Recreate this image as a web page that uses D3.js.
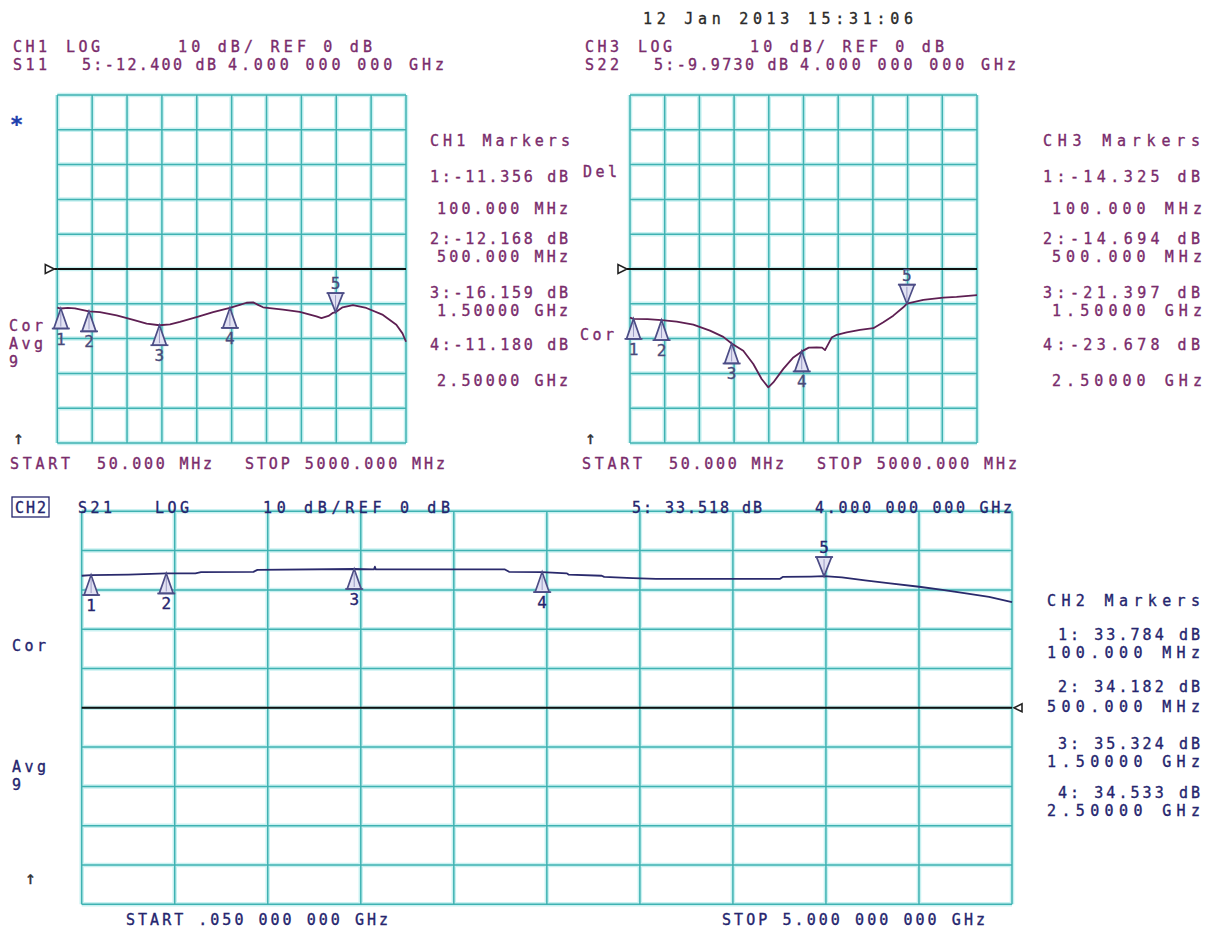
<!DOCTYPE html>
<html><head><meta charset="utf-8">
<script src="https://cdn.jsdelivr.net/npm/d3@7"></script>
<style>
body{margin:0;background:#fff;}
svg{display:block;}
text{font-family:"DejaVu Sans Mono","Liberation Mono",monospace;font-size:15px;stroke-width:0.35px;}
</style></head><body>
<svg id="c" width="1207" height="929"></svg>
<script>
// ---------------- DATA ----------------
const freqStartMHz = 50, freqStopMHz = 5000;
const dbPerDiv = 10, refDb = 0, divisions = 10;
const markerFreqMHz = [100, 500, 1500, 2500, 4000];
const markerFreqLabels = ["100.000 MHz", "500.000 MHz", "1.50000 GHz", "2.50000 GHz"];
const markerFreqHeader = "4.000 000 000 GHz";
const ch1MarkerDb = [-11.356, -12.168, -16.159, -11.180, -12.400];
const ch3MarkerDb = [-14.325, -14.694, -21.397, -23.678, -9.973];
const ch2MarkerDb = [33.784, 34.182, 35.324, 34.533, 33.518];

const ch1TraceFreq = [50,100,200,300,500,655,892,1129,1318,1500,1650,1790,2027,2262,2500,2640,2736,2830,2900,2971,3255,3491,3728,3800,3900,3964,4000,4100,4247,4437,4673,4863,4950,5000];
const ch1TraceDb = [-11.1,-11.356,-11.2,-11.3,-12.168,-12.4,-13.3,-14.6,-15.7,-16.159,-15.9,-15.2,-13.8,-12.4,-11.18,-10.3,-9.7,-9.6,-10.3,-11.0,-11.7,-12.3,-13.6,-14.1,-13.5,-12.6,-12.4,-11.0,-10.4,-11.2,-13.2,-16.0,-18.5,-20.9];

const ch3TraceFreq = [50,100,300,500,716,953,1191,1381,1500,1666,1809,1928,2023,2094,2237,2380,2500,2600,2713,2790,2832,2880,2927,3000,3141,3331,3521,3664,3806,3949,4000,4234,4519,4709,5000];
const ch3TraceDb = [-14.0,-14.325,-14.4,-14.694,-15.1,-16.0,-17.7,-19.5,-21.397,-23.5,-27.3,-31.6,-34.0,-32.6,-28.7,-25.4,-23.678,-22.6,-22.5,-22.6,-23.3,-21.5,-19.7,-18.9,-18.2,-17.5,-17.0,-15.3,-13.4,-11.0,-9.973,-8.9,-8.2,-8.0,-7.5];

const ch2TraceFreq = [50,100,300,500,655,685,964,985,1500,1605,1610,1615,2302,2324,2500,2632,2640,2817,2830,2982,3106,3764,3780,3930,4000,4095,4218,4340,4506,4630,4755,4878,5000];
const ch2TraceDb = [33.6,33.784,33.9,34.182,34.2,34.5,34.6,35.1,35.324,35.2,35.9,35.2,35.2,34.6,34.533,34.2,33.9,33.6,33.3,33.0,32.8,32.8,33.3,33.4,33.518,33.2,32.4,31.7,30.8,30.0,29.1,28.2,26.9];

const dateText = "12 Jan 2013  15:31:06";
const startStopShort = ["START", "50.000 MHz", "STOP 5000.000 MHz"];
const startStopLong = ["START .050 000 000 GHz", "STOP  5.000 000 000 GHz"];

// ---------------- STYLE ----------------
const C_GRID = "#3fb2b2", C_GLOW = "#c9f1f1";
const C_PURPLE = "#7a2c6c", C_NAVY = "#25256e", C_TRACE13 = "#5e1f52", C_TRACE2 = "#2a2a6c";
const C_MK = "#4d4d86";

const svg = d3.select("#c");
svg.append("rect").attr("width",1207).attr("height",929).attr("fill","#fff");

const fmt = v => v.toPrecision(5);

function txt(g, s, x, y, color, w, extra) {
  const t = g.append("text").attr("x", x).attr("y", y).attr("fill", color).attr("stroke", color).text(s);
  if (w) t.attr("textLength", w).attr("lengthAdjust", "spacing");
  if (extra) extra(t);
  return t;
}

function panel(x0, x1, y0, y1) {
  const x = d3.scaleLinear().domain([freqStartMHz, freqStopMHz]).range([x0, x1]);
  const y = d3.scaleLinear().domain([refDb - dbPerDiv*divisions/2, refDb + dbPerDiv*divisions/2]).range([y1, y0]);
  return {x, y};
}

function drawGrid(p) {
  const g = svg.append("g");
  const fx = d3.range(divisions+1).map(i => freqStartMHz + i*(freqStopMHz-freqStartMHz)/divisions);
  const dy = d3.range(divisions+1).map(i => refDb - dbPerDiv*divisions/2 + i*dbPerDiv);
  const [ya, yb] = p.y.range(), [xa, xb] = p.x.range();
  for (const [col, w] of [[C_GLOW, 4.5], [C_GRID, 1.5]]) {
    g.selectAll(null).data(fx).join("line")
      .attr("x1", d => p.x(d)).attr("x2", d => p.x(d)).attr("y1", ya).attr("y2", yb)
      .attr("stroke", col).attr("stroke-width", w);
    g.selectAll(null).data(dy).join("line")
      .attr("y1", d => p.y(d)).attr("y2", d => p.y(d)).attr("x1", xa).attr("x2", xb)
      .attr("stroke", col).attr("stroke-width", w);
  }
  return g;
}

function refLine(p, side) {
  const g = svg.append("g");
  const [xa, xb] = p.x.range();
  const yr = p.y(refDb);
  g.append("line").attr("x1", xa).attr("x2", xb).attr("y1", yr).attr("y2", yr)
    .attr("stroke", "#111").attr("stroke-width", 2);
  if (side === "left") {
    g.append("path").attr("d", `M${xa-12},${yr-4.5}L${xa-12},${yr+4.5}L${xa-3},${yr}Z`)
      .attr("fill", "#fff").attr("stroke", "#222").attr("stroke-width", 1.6);
    g.append("line").attr("x1", xa-3).attr("x2", xa).attr("y1", yr).attr("y2", yr).attr("stroke","#111").attr("stroke-width",2);
  } else {
    g.append("path").attr("d", `M${xb+10},${yr-4}L${xb+10},${yr+4}L${xb+2},${yr}Z`)
      .attr("fill", "#fff").attr("stroke", "#222").attr("stroke-width", 1.6);
  }
}

function trace(p, fr, db, color) {
  const pts = fr.map((f, i) => [f, db[i]]);
  svg.append("path").datum(pts)
    .attr("d", d3.line().x(d => p.x(d[0])).y(d => p.y(d[1])))
    .attr("fill", "none").attr("stroke", color).attr("stroke-width", 1.8).attr("stroke-linejoin","round");
}

function markers(p, dbs, numColor) {
  const g = svg.append("g");
  markerFreqMHz.forEach((f, i) => {
    const mx = p.x(f), my = p.y(dbs[i]);
    if (i < 4) {
      const h = 20, hw = 7;
      g.append("path").attr("d", `M${mx},${my}L${mx-hw},${my+h}L${mx+hw},${my+h}Z`)
        .attr("fill", "#e2e2f3").attr("stroke", C_MK).attr("stroke-width", 1.7);
      g.append("line").attr("x1", mx-9).attr("x2", mx+9).attr("y1", my+h).attr("y2", my+h)
        .attr("stroke", C_MK).attr("stroke-width", 1.7);
      g.append("line").attr("x1", mx).attr("x2", mx).attr("y1", my+3).attr("y2", my+h-2)
        .attr("stroke", "#9a9ac4").attr("stroke-width", 1);
      txt(g, String(i+1), mx, my+36, numColor, null, t => t.attr("text-anchor","middle").style("font-size","16px"));
    } else {
      const h = 19, hw = 7.5;
      g.append("path").attr("d", `M${mx},${my}L${mx-hw},${my-h}L${mx+hw},${my-h}Z`)
        .attr("fill", "#e2e2f3").attr("stroke", C_MK).attr("stroke-width", 1.7);
      g.append("line").attr("x1", mx-9).attr("x2", mx+9).attr("y1", my-h).attr("y2", my-h)
        .attr("stroke", C_MK).attr("stroke-width", 1.7);
      g.append("line").attr("x1", mx).attr("x2", mx).attr("y1", my-3).attr("y2", my-h+2)
        .attr("stroke", "#9a9ac4").attr("stroke-width", 1);
      txt(g, String(i+1), mx, my-23, numColor, null, t => t.attr("text-anchor","middle").style("font-size","16px"));
    }
  });
}

// ---------------- PANELS ----------------
const p1 = panel(57.3, 406, 95, 443);
const p3 = panel(630, 977, 95, 443);
const p2 = panel(81.7, 1012, 511.3, 904.3);

drawGrid(p1); drawGrid(p3); drawGrid(p2);
refLine(p1, "left"); refLine(p3, "left"); refLine(p2, "right");
trace(p1, ch1TraceFreq, ch1TraceDb, C_TRACE13);
trace(p3, ch3TraceFreq, ch3TraceDb, C_TRACE13);
trace(p2, ch2TraceFreq, ch2TraceDb, C_TRACE2);
markers(p1, ch1MarkerDb, "#4a4a7a");
markers(p3, ch3MarkerDb, "#4a4a7a");
markers(p2, ch2MarkerDb, C_NAVY);

// ---------------- TEXT ----------------
const T = svg.append("g");
txt(T, dateText, 643, 24, "#2a2a2a", 270);

function topHeader(dx, ch, sp, m5) {
  txt(T, ch, 13+dx, 52, C_PURPLE, 34);
  txt(T, "LOG", 66+dx, 52, C_PURPLE, 34);
  txt(T, `${dbPerDiv} dB/ REF ${refDb} dB`, 178+dx, 52, C_PURPLE, 194);
  txt(T, sp, 13+dx, 70, C_PURPLE, 34);
  txt(T, `5:${fmt(m5)} dB`, 82+dx, 70, C_PURPLE, 134);
  txt(T, markerFreqHeader, 228+dx, 70, C_PURPLE, 216);
  txt(T, startStopShort[0], 10+dx, 469, C_PURPLE, 60);
  txt(T, startStopShort[1], 97+dx, 469, C_PURPLE, 115);
  txt(T, startStopShort[2], 245+dx, 469, C_PURPLE, 200);
  txt(T, "↑", 13+dx, 444, "#333", null, t => t.style("font-size","18px"));
}
topHeader(0, "CH1", "S11", ch1MarkerDb[4]);
topHeader(572, "CH3", "S22", ch3MarkerDb[4]);

function markerList(x, title, dbs, color, ys, wv, xf, wt) {
  txt(T, title, x, ys[0], color, wt);
  for (let i = 0; i < 4; i++) {
    txt(T, `${i+1}:${fmt(dbs[i])} dB`, x, ys[1+2*i], color, wv);
    txt(T, markerFreqLabels[i], xf, ys[2+2*i], color, wv - 7);
  }
}
const listY = [146, 182, 214, 244, 262, 298, 316, 350, 386];
markerList(430, "CH1 Markers", ch1MarkerDb, C_PURPLE, listY, 138, 437, 140);
markerList(1043, "CH3 Markers", ch3MarkerDb, C_PURPLE, listY, 157, 1052, 157);

// left labels top
txt(T, "*", 10, 132, "#1d3fae", null, t => t.style("font-size","22px").style("font-weight","bold"));
txt(T, "Cor", 9, 331, C_PURPLE, 34);
txt(T, "Avg", 9, 349, C_PURPLE, 34);
txt(T, "9", 9, 367, C_PURPLE);
txt(T, "Del", 583, 177, C_PURPLE, 34);
txt(T, "Cor", 580, 340, C_PURPLE, 34);

// CH2 header
T.append("rect").attr("x", 12).attr("y", 497).attr("width", 37).attr("height", 20)
  .attr("fill", "none").attr("stroke", C_NAVY).attr("stroke-width", 1.3);
txt(T, "CH2", 15, 513, C_NAVY, 31);
txt(T, "S21", 78, 513, C_NAVY, 34);
txt(T, "LOG", 155, 513, C_NAVY, 34);
txt(T, `${dbPerDiv} dB/REF ${refDb} dB`, 263, 513, C_NAVY, 187);
txt(T, `5: ${fmt(ch2MarkerDb[4])} dB`, 632, 513, C_NAVY, 130);
txt(T, markerFreqHeader, 815, 513, C_NAVY, 197);
txt(T, startStopLong[0], 126, 925, C_NAVY, 262);
txt(T, startStopLong[1], 722, 925, C_NAVY, 263);
txt(T, "Cor", 12, 651, C_NAVY, 34);
txt(T, "Avg", 12, 772, C_NAVY, 34);
txt(T, "9", 12, 790, C_NAVY);
txt(T, "↑", 25, 884, "#333", null, t => t.style("font-size","18px"));

// CH2 marker list
txt(T, "CH2 Markers", 1047, 606, C_NAVY, 153);
const l2 = [[640,658],[692,712],[749,767],[798,816]];
for (let i = 0; i < 4; i++) {
  txt(T, `${i+1}: ${fmt(ch2MarkerDb[i])} dB`, 1058, l2[i][0], C_NAVY, 142);
  txt(T, markerFreqLabels[i], 1047, l2[i][1], C_NAVY, 153);
}
</script></body></html>
